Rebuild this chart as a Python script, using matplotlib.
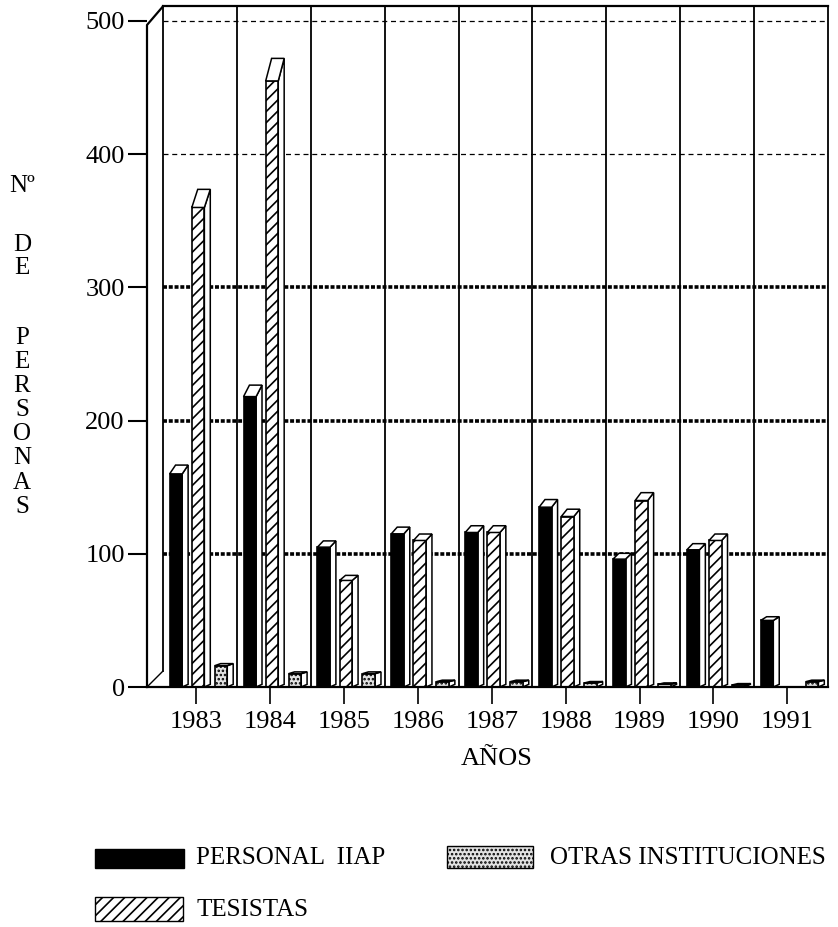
import matplotlib

matplotlib.use("Agg")
import matplotlib.pyplot as plt
from matplotlib.patches import Rectangle

plt.rcParams["font.family"] = ["Liberation Serif", "DejaVu Serif"]
plt.rcParams["hatch.linewidth"] = 1.2

# data
years = ["1983", "1984", "1985", "1986", "1987", "1988", "1989", "1990", "1991"]
personal_iiap = [160, 218, 105, 115, 116, 135, 96, 103, 50]
tesistas = [360, 455, 80, 110, 116, 128, 140, 110, 0]
otras_inst = [16, 10, 10, 4, 4, 3, 2, 1.5, 4]
y_ticks = [0, 100, 200, 300, 400, 500]

# pixel layout of the original scan
W, H = 838, 927
FRONT_X, RIGHT_X, BASE_Y, TOP_Y = 147, 828, 687, 5
Y_TOP = 512
X_LEFT = -0.2165

fig = plt.figure(figsize=(W / 100, H / 100), dpi=100)
ax = fig.add_axes([FRONT_X / W, 1 - BASE_Y / H,
                   (RIGHT_X - FRONT_X) / W, (BASE_Y - TOP_Y) / H])
ax.set_xlim(X_LEFT, len(years))
ax.set_ylim(0, Y_TOP)
for sp in ax.spines.values():
    sp.set_visible(False)

n = len(years)
# walls / frame
ax.plot([X_LEFT, n], [0, 0], color="black", lw=1.6, clip_on=False, zorder=6)
ax.plot([X_LEFT, X_LEFT, 0], [0, 497, Y_TOP - 1], color="black", lw=1.6,
        clip_on=False, zorder=6)
ax.plot([X_LEFT, 0], [0, 12], color="black", lw=1.0, zorder=6)
ax.plot([0, n], [Y_TOP - 1, Y_TOP - 1], color="black", lw=1.6,
        clip_on=False, zorder=6)
for i in range(n + 1):
    ax.plot([i, i], [0 if i else 12, Y_TOP - 1], color="black",
            lw=1.3, zorder=1, clip_on=False)

# horizontal grid
for v in y_ticks[1:]:
    if v <= 300:
        ax.plot([0, n], [v, v], color="black", lw=2.6,
                linestyle=(0, (1.1, 0.5)), zorder=1.5)
    else:
        ax.plot([0, n], [v, v], color="black", lw=0.9,
                linestyle=(0, (4, 3)), zorder=1.5)

# bars with a fake 3D side and cap
bar_w, depth = 0.17, 0.08
STIPPLE = dict(facecolor="#e2e2e2", hatch="....")
series = [
    (personal_iiap, 0.09, dict(color="black")),
    (tesistas, 0.39, dict(facecolor="white", hatch="///")),
    (otras_inst, 0.70, STIPPLE),
]
for vals, off, style in series:
    xs = [i + off for i in range(n)]
    ax.bar(xs, vals, width=bar_w, align="edge", edgecolor="black",
           linewidth=1.2, zorder=3, **style)
    for x0, v in zip(xs, vals):
        if v <= 0:
            continue
        cap = 0.035 * v + 1.0
        x1 = x0 + bar_w
        ax.fill([x1, x1 + depth, x1 + depth, x1], [0, 2, v + cap, v],
                facecolor="white", edgecolor="black", lw=1.1, zorder=2.9)
        ax.fill([x0, x0 + depth, x1 + depth, x1], [v, v + cap, v + cap, v],
                facecolor="white", edgecolor="black", lw=1.1, zorder=3.1)

# ticks
ax.set_yticks(y_ticks)
ax.set_yticklabels([str(v) for v in y_ticks], fontsize=19)
ax.tick_params(axis="y", length=14, width=1.5, pad=2, direction="out")
ax.set_xticks([i + 0.45 for i in range(n)])
ax.set_xticklabels(years, fontsize=19)
ax.tick_params(axis="x", length=12, width=1.2, pad=5, direction="out")

# text layer in pixel coordinates
tx = fig.add_axes([0, 0, 1, 1], facecolor="none")
tx.set_xlim(0, W)
tx.set_ylim(H, 0)
tx.axis("off")

tx.text(497, 759, "AÑOS", ha="center", va="center", fontsize=19)

ylab = ["Nº", "D", "E", "P", "E", "R", "S", "O", "N", "A", "S"]
ylab_y = [186, 245, 268, 338, 362, 386, 410, 434, 458, 483, 507]
for ch, yy in zip(ylab, ylab_y):
    tx.text(22, yy, ch, ha="center", va="center", fontsize=18)

# legend
tx.add_patch(Rectangle((95, 849), 89, 19, facecolor="black",
                       edgecolor="black"))
tx.text(196, 858, "PERSONAL  IIAP", va="center", fontsize=18)
tx.add_patch(Rectangle((447, 846), 86, 22, edgecolor="black", lw=1.0,
                       **STIPPLE))
tx.text(550, 858, "OTRAS INSTITUCIONES", va="center", fontsize=18)
tx.add_patch(Rectangle((95, 897), 88, 24, facecolor="white",
                       edgecolor="black", hatch="///", lw=1.0))
tx.text(196, 910, "TESISTAS", va="center", fontsize=18)

fig.savefig("out.png", dpi=100)
plt.close(fig)
